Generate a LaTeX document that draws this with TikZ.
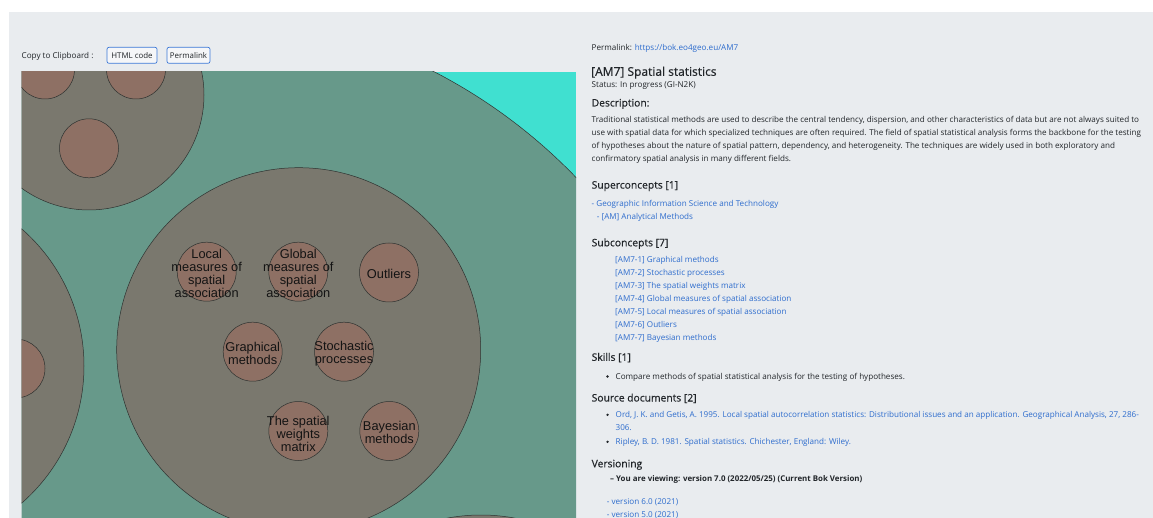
\documentclass[tikz,border=0pt]{standalone}
\usepackage{fontspec}
\setmainfont{Open Sans}
\newfontfamily\headf[FakeBold=0.45]{Open Sans}
\newfontfamily\arialf{Liberation Sans}
\definecolor{pagebg}{RGB}{233,236,239}
\definecolor{txt}{RGB}{33,37,41}
\definecolor{lnk}{RGB}{45,108,205}
\definecolor{btnline}{RGB}{60,120,215}
\definecolor{turq}{RGB}{64,224,208}
\definecolor{lvlone}{RGB}{103,153,138}
\definecolor{grpc}{RGB}{122,120,110}
\definecolor{leafc}{RGB}{142,112,100}
\definecolor{edge}{RGB}{45,50,48}
\tikzset{
  smalltext/.style={anchor=base west,inner sep=0pt,text=txt,font=\fontsize{8.1}{9.6}\selectfont},
  linktext/.style={smalltext,text=lnk},
  headtext/.style={anchor=base west,inner sep=0pt,text=txt,font=\headf\fontsize{10.3}{12}\selectfont},
  titletext/.style={anchor=base west,inner sep=0pt,text=txt,font=\headf\fontsize{12}{14}\selectfont},
  btn/.style={draw=btnline,line width=0.7pt,rounded corners=2pt,fill=white!55!pagebg,inner sep=0pt,minimum height=16pt,text=txt,font=\fontsize{7.9}{9}\selectfont},
  outer/.style={circle,draw=edge,line width=0.5pt,fill=lvlone,inner sep=0pt,minimum size=1080pt},
  grp/.style={circle,draw=edge,line width=0.5pt,fill=grpc,inner sep=0pt},
  leaf/.style={circle,draw=edge,line width=0.5pt,fill=leafc,inner sep=0pt,minimum size=59pt},
  lbl/.style={align=center,inner sep=0pt,text=black!92,font=\arialf\fontsize{12.8}{13}\selectfont},
  dot/.style={circle,fill=txt,inner sep=0pt,minimum size=2.6pt}
}
\begin{document}
\begin{tikzpicture}[x=1pt,y=-1pt]
\useasboundingbox (0,0) rectangle (1153,518);
\fill[white] (0,0) rectangle (1153,518);
\fill[pagebg] (9,12) rectangle (1153,518);

% toolbar
\node[smalltext,anchor=west] (copy) at (21.5,56) {Copy to Clipboard :};
\node[btn,minimum width=50pt] (bhtml) at (132,55.3) {HTML code};
\node[btn,minimum width=43pt] (bperm) at (188.5,55.3) {Permalink};

% circle packing panel
\begin{scope}
\clip (21.5,72) rectangle (576,518);
\fill[turq] (21.5,72) rectangle (576,518);
\node[outer] (root) at (187,552) {};
\node[grp,minimum size=230pt] (gtl) at (89,95) {};
\node[grp,minimum size=364pt] (gleft) at (-98,366) {};
\node[grp,minimum size=364pt] (gbr) at (481,697) {};
\node[grp,minimum size=364pt] (gam) at (298.7,349.7) {};
% leaves of other groups
\node[leaf] (tla) at (45,69.5) {};
\node[leaf] (tlb) at (136,69.5) {};
\node[leaf] (tlc) at (89,148.3) {};
\node[leaf] (lfa) at (15.5,368.5) {};
% leaves of AM7
\node[leaf] (local) at (206.7,271.7) {};
\node[leaf] (global) at (298.3,271.7) {};
\node[leaf] (outl) at (389,272.5) {};
\node[leaf] (graph) at (252.7,351.7) {};
\node[leaf] (stoch) at (344,351.7) {};
\node[leaf] (weights) at (298.3,431) {};
\node[leaf] (bayes) at (389.3,431) {};
\end{scope}
\node[lbl] (tlocal) at ([yshift=-2pt]local.center) {Local\\measures of\\spatial\\association};
\node[lbl] (tglobal) at ([yshift=-2pt]global.center) {Global\\measures of\\spatial\\association};
\node[lbl] (toutl) at ([yshift=-1pt]outl.center) {Outliers};
\node[lbl] (tgraph) at ([yshift=-1.5pt]graph.center) {Graphical\\methods};
\node[lbl] (tstoch) at ([yshift=-1.5pt]stoch.center) {Stochastic\\processes};
\node[lbl] (tweights) at ([yshift=-2.5pt]weights.center) {The spatial\\weights\\matrix};
\node[lbl] (tbayes) at ([yshift=-1.5pt]bayes.center) {Bayesian\\methods};

% right panel
\node[smalltext] (perm) at (591.5,50.3) {Permalink: \textcolor{lnk}{https://bok.eo4geo.eu/AM7}};
\node[titletext] (title) at (591,75.8) {[AM7] Spatial statistics};
\node[smalltext] (status) at (591.5,87.2) {Status: In progress (GI-N2K)};
\node[headtext] (deschead) at (591.5,106.5) {Description:};
\node[smalltext] (d1) at (591.5,122.3) {Traditional statistical methods are used to describe the central tendency, dispersion, and other characteristics of data but are not always suited to};
\node[smalltext] (d2) at (591.5,135.3) {use with spatial data for which specialized techniques are often required. The field of spatial statistical analysis forms the backbone for the testing};
\node[smalltext] (d3) at (591.5,148.3) {of hypotheses about the nature of spatial pattern, dependency, and heterogeneity. The techniques are widely used in both exploratory and};
\node[smalltext] (d4) at (591.5,161.3) {confirmatory spatial analysis in many different fields.};

\node[headtext] (suphead) at (591.5,188.6) {Superconcepts [1]};
\node[linktext] (sup1) at (591.5,206.5) {- Geographic Information Science and Technology};
\node[linktext] (sup2) at (596.7,219.3) {- [AM] Analytical Methods};

\node[headtext] (subhead) at (591.5,246.3) {Subconcepts [7]};
\node[linktext] (s1) at (615,262.6) {[AM7-1] Graphical methods};
\node[linktext] (s2) at (615,275.6) {[AM7-2] Stochastic processes};
\node[linktext] (s3) at (615,288.6) {[AM7-3] The spatial weights matrix};
\node[linktext] (s4) at (615,301.6) {[AM7-4] Global measures of spatial association};
\node[linktext] (s5) at (615,314.6) {[AM7-5] Local measures of spatial association};
\node[linktext] (s6) at (615,327.6) {[AM7-6] Outliers};
\node[linktext] (s7) at (615,340.6) {[AM7-7] Bayesian methods};

\node[headtext] (skillhead) at (591.5,360.8) {Skills [1]};
\node[dot] (sk1dot) at (607.5,376.5) {};
\node[smalltext] (sk1) at (615.5,379.5) {Compare methods of spatial statistical analysis for the testing of hypotheses.};

\node[headtext] (srchead) at (591.5,401.5) {Source documents [2]};
\node[dot] (src1dot) at (607.5,414.8) {};
\node[linktext] (src1) at (615.5,417.8) {Ord, J. K. and Getis, A. 1995. Local spatial autocorrelation statistics: Distributional issues and an application. Geographical Analysis, 27, 286-};
\node[linktext] (src1b) at (615.5,430.8) {306.};
\node[dot] (src2dot) at (607.5,441.8) {};
\node[linktext] (src2) at (615.5,444.8) {Ripley, B. D. 1981. Spatial statistics. Chichester, England: Wiley.};

\node[headtext] (verhead) at (591.5,467.3) {Versioning};
\node[smalltext,font=\fontsize{7.9}{9.4}\selectfont\bfseries] (cur) at (610,481.3) {\textendash\ You are viewing: version 7.0 (2022/05/25) (Current Bok Version)};
\node[linktext] (v6) at (606.7,504.3) {- version 6.0 (2021)};
\node[linktext] (v5) at (606.7,517.3) {- version 5.0 (2021)};
\end{tikzpicture}
\end{document}
